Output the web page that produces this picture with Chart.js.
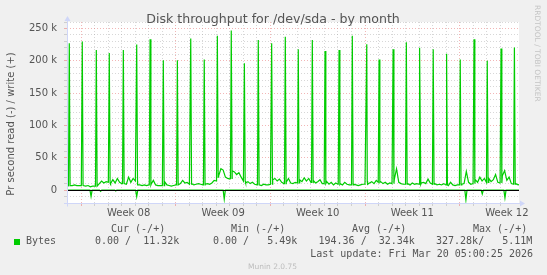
<!DOCTYPE html>
<html lang="en">
<head>
<meta charset="UTF-8">
<title>Disk throughput for /dev/sda - by month</title>
<script src="https://cdn.jsdelivr.net/npm/chart.js@4"></script>
<style>
  html, body { margin: 0; padding: 0; background: #f0f0f0; }
  canvas { display: block; }
</style>
</head>
<body>
<canvas id="myChart" width="547" height="275"></canvas>
<script>
// time axis: days since Mon 16 Feb 2026 00:00 (start of Week 08), values in kB/s
const weekStarts = [0, 7, 14, 21, 28];
const weekLabels = ['Week 08', 'Week 09', 'Week 10', 'Week 11', 'Week 12'];

// write (+) baseline, one row per day (00h 04h 08h 12h 16h 20h), first row = 15 Feb
const baseStart = -1;
const baseStep = 1 / 6;
const baseVals = [
  8, 7, 7, 8, 7, 7,
  7, 7, 6, 7, 5, 6,
  6, 12, 10, 14, 11, 13,
  12, 10, 16, 11, 18, 12,
  10, 13, 9, 20, 12, 18,
  14, 8, 8, 7, 8, 7,
  8, 9, 15, 8, 7, 7,
  7, 13, 8, 7, 6, 7,
  8, 13, 10, 15, 11, 12,
  9, 10, 8, 9, 10, 9,
  8, 9, 10, 9, 11, 15,
  14, 22, 33, 31, 20, 18,
  17, 30, 28, 24, 27, 20,
  14, 11, 13, 10, 12, 9,
  8, 8, 7, 9, 8, 8,
  9, 16, 18, 14, 17, 12,
  10, 12, 18, 11, 10, 12,
  11, 16, 13, 19, 14, 18,
  12, 15, 11, 13, 16, 10,
  10, 13, 9, 12, 8, 11,
  9, 10, 8, 12, 9, 8,
  8, 9, 8, 7, 8, 9,
  9, 14, 11, 13, 10, 15,
  12, 13, 10, 12, 9, 11,
  10, 16, 33, 12, 10, 9,
  9, 10, 8, 11, 9, 10,
  9, 11, 12, 10, 17, 11,
  9, 10, 8, 9, 8, 10,
  8, 7, 12, 8, 7, 8,
  8, 9, 10, 29, 12, 9,
  10, 16, 12, 20, 14, 18,
  12, 18, 13, 16, 24, 12,
  11, 22, 30, 15, 20, 10,
  9, 10, 8, 9, 9, 9
];

// nightly write spikes
const spikeAt = [-0.89, 0.07, 1.11, 2.07, 3.11, 4.10, 5.09, 6.07, 7.11, 8.10, 9.10, 10.07,
  11.10, 12.07, 13.10, 14.09, 15.10, 16.06, 17.10, 18.04, 19.08, 20.06, 21.13, 22.04,
  23.08, 24.06, 25.07, 26.05, 27.04, 28.05, 29.07, 30.05, 31.07, 32.06];
const spikePeak = [227, 230, 216.5, 212, 216.5, 225, 233.5, 201, 201, 234.5, 202, 238.6,
  247, 196, 232, 227, 237, 218, 232, 215, 216.5, 238.6, 225.7, 202,
  218, 228.8, 220, 218, 211, 202, 233.5, 200, 219, 220.6];
const spikeFoot = [7, 7, 6, 12, 10, 14, 8, 7, 8, 9, 8, 20, 18, 14, 8, 9, 10, 11, 12, 10,
  9, 8, 9, 12, 10, 9, 9, 9, 8, 8, 10, 12, 11, 9];

// read (-) dips, otherwise ~0
const readAt = [0.72, 1.43, 2.55, 4.10, 10.58, 28.47, 29.68, 31.36];
const readVal = [-9.8, -2, -1.5, -10, -14, -15, -6, -12];

const xMin = -1.06, xMax = 32.4;
const yMin = -20, yMax = 260;

let writePoints = baseVals.map((v, i) => ({ x: baseStart + i * baseStep, y: v }));
spikeAt.forEach((t, i) => {
  writePoints.push({ x: t - 0.06, y: spikeFoot[i] });
  writePoints.push({ x: t, y: spikePeak[i] });
  writePoints.push({ x: t + 0.06, y: spikeFoot[i] });
});
writePoints.sort((a, b) => a.x - b.x);

let readPoints = [{ x: xMin, y: 0 }];
readAt.forEach((t, i) => {
  readPoints.push({ x: t - 0.08, y: 0 });
  readPoints.push({ x: t, y: readVal[i] });
  readPoints.push({ x: t + 0.08, y: 0 });
});
readPoints.push({ x: xMax, y: 0 });

const near = (a, b) => Math.abs(a - b) < 1e-6;
const minorGrid = 'rgba(160,160,160,0.42)';
const majorGrid = 'rgba(230,110,110,0.5)';
const axisCol = '#cfd6f8';
const fontCol = '#555555';

function xGridColor(c) {
  const v = c.tick.value;
  if (!near(v, Math.round(v))) return 'rgba(0,0,0,0)';
  return weekStarts.some(w => near(w, v)) ? majorGrid : minorGrid;
}
function yGridColor(c) {
  const v = c.tick.value;
  return near(v % 50, 0) ? majorGrid : minorGrid;
}

const muninDecor = {
  id: 'muninDecor',
  beforeDraw(chart) {
    const { ctx, chartArea: a } = chart;
    ctx.save();
    ctx.fillStyle = '#f0f0f0';
    ctx.fillRect(0, 0, chart.width, chart.height);
    ctx.fillStyle = '#ffffff';
    ctx.fillRect(a.left, a.top, a.right - a.left, a.bottom - a.top);
    ctx.restore();
  },
  afterDatasetsDraw(chart) {
    const { ctx, chartArea: a, scales } = chart;
    ctx.save();
    // zero line
    const y0 = Math.round(scales.y.getPixelForValue(0)) + 0.5;
    ctx.strokeStyle = '#000000';
    ctx.lineWidth = 1;
    ctx.beginPath();
    ctx.moveTo(a.left, y0);
    ctx.lineTo(a.right, y0);
    ctx.stroke();
    // axes with arrows
    const lx = Math.round(a.left) + 0.5;
    const by = Math.round(a.bottom) + 0.5;
    ctx.strokeStyle = axisCol;
    ctx.fillStyle = axisCol;
    ctx.beginPath();
    ctx.moveTo(lx, by + 3);
    ctx.lineTo(lx, a.top - 2);
    ctx.moveTo(a.left - 3, by);
    ctx.lineTo(a.right + 2, by);
    ctx.stroke();
    ctx.beginPath();
    ctx.moveTo(lx - 3, a.top - 1);
    ctx.lineTo(lx + 3, a.top - 1);
    ctx.lineTo(lx, a.top - 6);
    ctx.closePath();
    ctx.fill();
    ctx.beginPath();
    ctx.moveTo(a.right + 1, by - 3);
    ctx.lineTo(a.right + 1, by + 3);
    ctx.lineTo(a.right + 6, by);
    ctx.closePath();
    ctx.fill();
    ctx.restore();
  },
  afterDraw(chart) {
    const { ctx } = chart;
    ctx.save();
    ctx.fillStyle = fontCol;
    ctx.textBaseline = 'middle';
    ctx.textAlign = 'center';
    ctx.font = '12.6px "DejaVu Sans"';
    ctx.fillText('Disk throughput for /dev/sda - by month', 273, 19.5);

    ctx.save();
    ctx.translate(11.5, 124);
    ctx.rotate(-Math.PI / 2);
    ctx.font = '10px "DejaVu Sans"';
    ctx.fillText('Pr second read (-) / write (+)', 0, 0);
    ctx.restore();

    ctx.save();
    ctx.translate(537, 5);
    ctx.rotate(Math.PI / 2);
    ctx.textAlign = 'left';
    ctx.fillStyle = '#c4c4c4';
    ctx.font = '7.5px "DejaVu Sans"';
    ctx.fillText('RRDTOOL / TOBI OETIKER', 0, 0);
    ctx.restore();

    ctx.textAlign = 'left';
    ctx.font = '10px "DejaVu Sans Mono"';
    ctx.fillText('Cur (-/+)', 111, 229);
    ctx.fillText('Min (-/+)', 231, 229);
    ctx.fillText('Avg (-/+)', 352, 229);
    ctx.fillText('Max (-/+)', 473, 229);
    ctx.fillText('Bytes', 26, 241.5);
    ctx.fillText('0.00 /  11.32k', 95, 241.5);
    ctx.fillText('0.00 /   5.49k', 213, 241.5);
    ctx.fillText('194.36 /  32.34k', 318.5, 241.5);
    ctx.fillText('327.28k/   5.11M', 436, 241.5);
    ctx.textAlign = 'right';
    ctx.fillText('Last update: Fri Mar 20 05:00:25 2026', 533, 254);
    ctx.fillStyle = '#00cc00';
    ctx.fillRect(14, 239, 6, 6);

    ctx.textAlign = 'center';
    ctx.fillStyle = '#bdbdbd';
    ctx.font = '7.5px "DejaVu Sans"';
    ctx.fillText('Munin 2.0.75', 272.5, 267);
    ctx.restore();
  }
};

const ctx = document.getElementById('myChart').getContext('2d');
const chart = new Chart(ctx, {
  type: 'line',
  data: {
    datasets: [{
      label: 'write',
      data: writePoints,
      borderColor: '#00cc00',
      borderWidth: 1.2,
      pointRadius: 0,
      tension: 0,
      fill: false,
      order: 1
    }, {
      label: 'read',
      data: readPoints,
      borderColor: '#00cc00',
      borderWidth: 1.2,
      pointRadius: 0,
      tension: 0,
      fill: false,
      order: 2
    }]
  },
  options: {
    responsive: false,
    animation: false,
    events: [],
    layout: { padding: { left: 0, right: 28, top: 22, bottom: 50 } },
    plugins: {
      legend: { display: false },
      tooltip: { enabled: false },
      title: { display: false }
    },
    scales: {
      x: {
        type: 'linear',
        min: xMin,
        max: xMax,
        afterFit: s => { s.height = 22; },
        ticks: {
          stepSize: 0.5,
          autoSkip: false,
          maxRotation: 0,
          padding: 1,
          color: fontCol,
          font: { family: 'DejaVu Sans', size: 10 },
          callback: v => {
            const i = weekStarts.findIndex(w => near(w + 3.5, v));
            return i >= 0 ? weekLabels[i] : '';
          }
        },
        grid: { color: xGridColor, tickColor: xGridColor, tickLength: 3, lineWidth: 1 },
        border: { display: false, dash: [1, 2] }
      },
      y: {
        min: yMin,
        max: yMax,
        afterFit: s => { s.width = 67; },
        ticks: {
          stepSize: 10,
          autoSkip: false,
          padding: 7,
          color: fontCol,
          font: { family: 'DejaVu Sans', size: 10 },
          callback: v => near(v % 50, 0) && v >= 0 ? (v === 0 ? '0' : v + ' k') : ''
        },
        grid: { color: yGridColor, tickColor: yGridColor, tickLength: 3, lineWidth: 1 },
        border: { display: false, dash: [1, 2] }
      }
    }
  },
  plugins: [muninDecor]
});
</script>
</body>
</html>
